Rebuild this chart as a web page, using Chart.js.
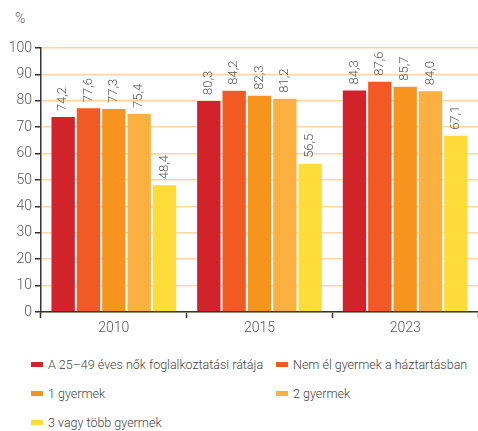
<!DOCTYPE html>
<html>
<head>
<meta charset="utf-8">
<script src="https://cdn.jsdelivr.net/npm/chart.js@4"></script>
<style>
    body { margin: 0; background: #fff; font-family: Roboto, sans-serif; font-weight: 300; }
    #wrap { position: relative; width: 478px; height: 431px; }
    #box { position: absolute; left: 0; top: 0; width: 478px; height: 345px; }
    #unit { position: absolute; left: 15px; top: 10px; font-size: 14px; color: #58595b; }
    #legend { position: absolute; left: 31px; top: 355px; width: 447px; display: grid; grid-template-columns: 245px 200px; row-gap: 10px; }
    .item { display: flex; align-items: center; font-size: 12.5px; color: #444; height: 19px; white-space: nowrap; }
    .swatch { flex: 0 0 12px; height: 5px; margin-right: 5px; }
</style>
</head>
<body>
<div id="wrap">
    <div id="unit">%</div>
    <div id="box"><canvas id="chart"></canvas></div>
    <div id="legend"></div>
</div>
<script>
const years = ['2010', '2015', '2023'];
const seriesNames = [
    'A 25–49 éves nők foglalkoztatási rátája',
    'Nem él gyermek a háztartásban',
    '1 gyermek',
    '2 gyermek',
    '3 vagy több gyermek'
];
const total = [74.2, 80.3, 84.3];
const noChild = [77.6, 84.2, 87.6];
const oneChild = [77.3, 82.3, 85.7];
const twoChild = [75.4, 81.2, 84.0];
const threeChild = [48.4, 56.5, 67.1];
const colors = ['#d2232a', '#f15a22', '#f7941d', '#fbb040', '#ffdc3a'];

const values = [total, noChild, oneChild, twoChild, threeChild];

// felirat a hasábok fölé, elforgatva
const barLabels = {
    id: 'barLabels',
    afterDatasetsDraw(chart) {
        const ctx = chart.ctx;
        ctx.save();
        ctx.font = '300 13px Roboto, sans-serif';
        ctx.fillStyle = '#555';
        ctx.textAlign = 'left';
        ctx.textBaseline = 'middle';
        chart.data.datasets.forEach((ds, i) => {
            chart.getDatasetMeta(i).data.forEach((bar, j) => {
                ctx.save();
                ctx.translate(bar.x, bar.y - 5);
                ctx.rotate(-Math.PI / 2);
                ctx.fillText(ds.data[j].toFixed(1).replace('.', ','), 0, 0);
                ctx.restore();
            });
        });
        ctx.restore();
    }
};

new Chart(document.getElementById('chart'), {
    type: 'bar',
    data: {
        labels: years,
        datasets: seriesNames.map((name, i) => ({
            label: name,
            data: values[i],
            backgroundColor: colors[i],
            borderColor: 'rgba(255,255,255,0.35)',
            borderWidth: 1,
            barPercentage: 1,
            categoryPercentage: 0.87
        }))
    },
    options: {
        responsive: true,
        maintainAspectRatio: false,
        animation: false,
        layout: { padding: { top: 48, right: 0, left: 0, bottom: 0 } },
        plugins: {
            legend: { display: false },
            tooltip: { enabled: false }
        },
        scales: {
            x: {
                grid: { display: true, drawOnChartArea: false, offset: true, tickLength: 6, tickColor: '#333', tickWidth: 1.5 },
                border: { color: '#333', width: 1.5 },
                ticks: { color: '#555', font: { family: 'Roboto, sans-serif', size: 14, weight: 300 }, padding: 2 },
                afterFit: function (scale) { scale.height = 33; }
            },
            y: {
                min: 0,
                max: 100,
                ticks: { stepSize: 10, color: '#58595b', font: { family: 'Roboto, sans-serif', size: 14, weight: 300 }, padding: 3 },
                grid: { color: '#fdd5a6', lineWidth: 1.5, tickLength: 6, tickColor: '#333', tickWidth: 1.5 },
                border: { color: '#333', width: 1.5 },
                afterFit: function (scale) { scale.width = 41; }
            }
        }
    },
    plugins: [barLabels]
});

// jelmagyarázat két oszlopban
const legend = document.getElementById('legend');
seriesNames.forEach((name, i) => {
    const item = document.createElement('div');
    item.className = 'item';
    const sw = document.createElement('span');
    sw.className = 'swatch';
    sw.style.background = colors[i];
    item.appendChild(sw);
    item.appendChild(document.createTextNode(name));
    legend.appendChild(item);
});
</script>
</body>
</html>
